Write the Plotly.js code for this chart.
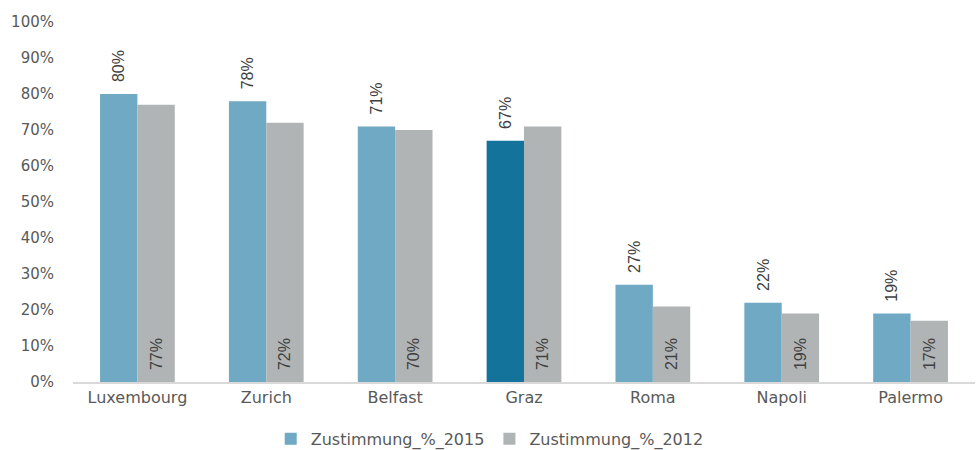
<!DOCTYPE html>
<html><head><meta charset="utf-8">
<script src="https://cdn.plot.ly/plotly-3.0.1.min.js"></script>
<style>html,body{margin:0;padding:0;background:#fff}</style>
</head><body>
<div id="chart" style="width:977px;height:450px"></div>
<script>
const cities = ["Luxembourg","Zurich","Belfast","Graz","Roma","Napoli","Palermo"];
const values2015 = [80,78,71,67,27,22,19];
const values2012 = [77,72,70,71,21,19,17];
const highlightCity = "Graz";

const c2015 = "#6fa9c3", cHi = "#14739b", c2012 = "#b1b4b5";
const labelFont = {family:"Liberation Sans Narrow, Liberation Sans, sans-serif", size:16, color:"#404040"};
const axisFont = {family:"DejaVu Sans, sans-serif", size:15, color:"#595959"};
const pad = "\u00a0\u00a0";

const traces = [
  {type:"bar", name:"Zustimmung_%_2015", x:cities, y:values2015,
   marker:{color:cities.map(c=>c===highlightCity?cHi:c2015)},
   text:values2015.map(v=>pad+v+"%"), textposition:"outside", textangle:-90, constraintext:"none",
   textfont:labelFont, cliponaxis:false, hoverinfo:"none"},
  {type:"bar", name:"Zustimmung_%_2012", x:cities, y:values2012,
   marker:{color:c2012},
   text:values2012.map(v=>pad+v+"%"), textposition:"inside", insidetextanchor:"start", textangle:-90, constraintext:"none",
   textfont:labelFont, hoverinfo:"none"}
];

const layout = {
  width:977, height:450,
  margin:{l:73, r:2, t:22, b:68, autoexpand:false},
  barmode:"group", bargap:0.42, bargroupgap:0,
  showlegend:true,
  legend:{orientation:"h", x:0.462, xanchor:"center", y:-0.205, yanchor:"bottom", itemwidth:30,
          font:{family:"DejaVu Sans, sans-serif", size:16, color:"#595959"}},
  xaxis:{showgrid:false, showline:true, linecolor:"#d9d9d9", linewidth:2, ticks:"",
         tickfont:{family:"DejaVu Sans, sans-serif", size:16, color:"#595959"}},
  yaxis:{range:[0,100], dtick:10, ticksuffix:"%", showgrid:false, zeroline:false, showline:false,
         ticklabelstandoff:18, tickfont:axisFont},
  plot_bgcolor:"#fff", paper_bgcolor:"#fff"
};
Plotly.newPlot("chart", traces, layout, {displayModeBar:false, staticPlot:true});
</script>
</body></html>
